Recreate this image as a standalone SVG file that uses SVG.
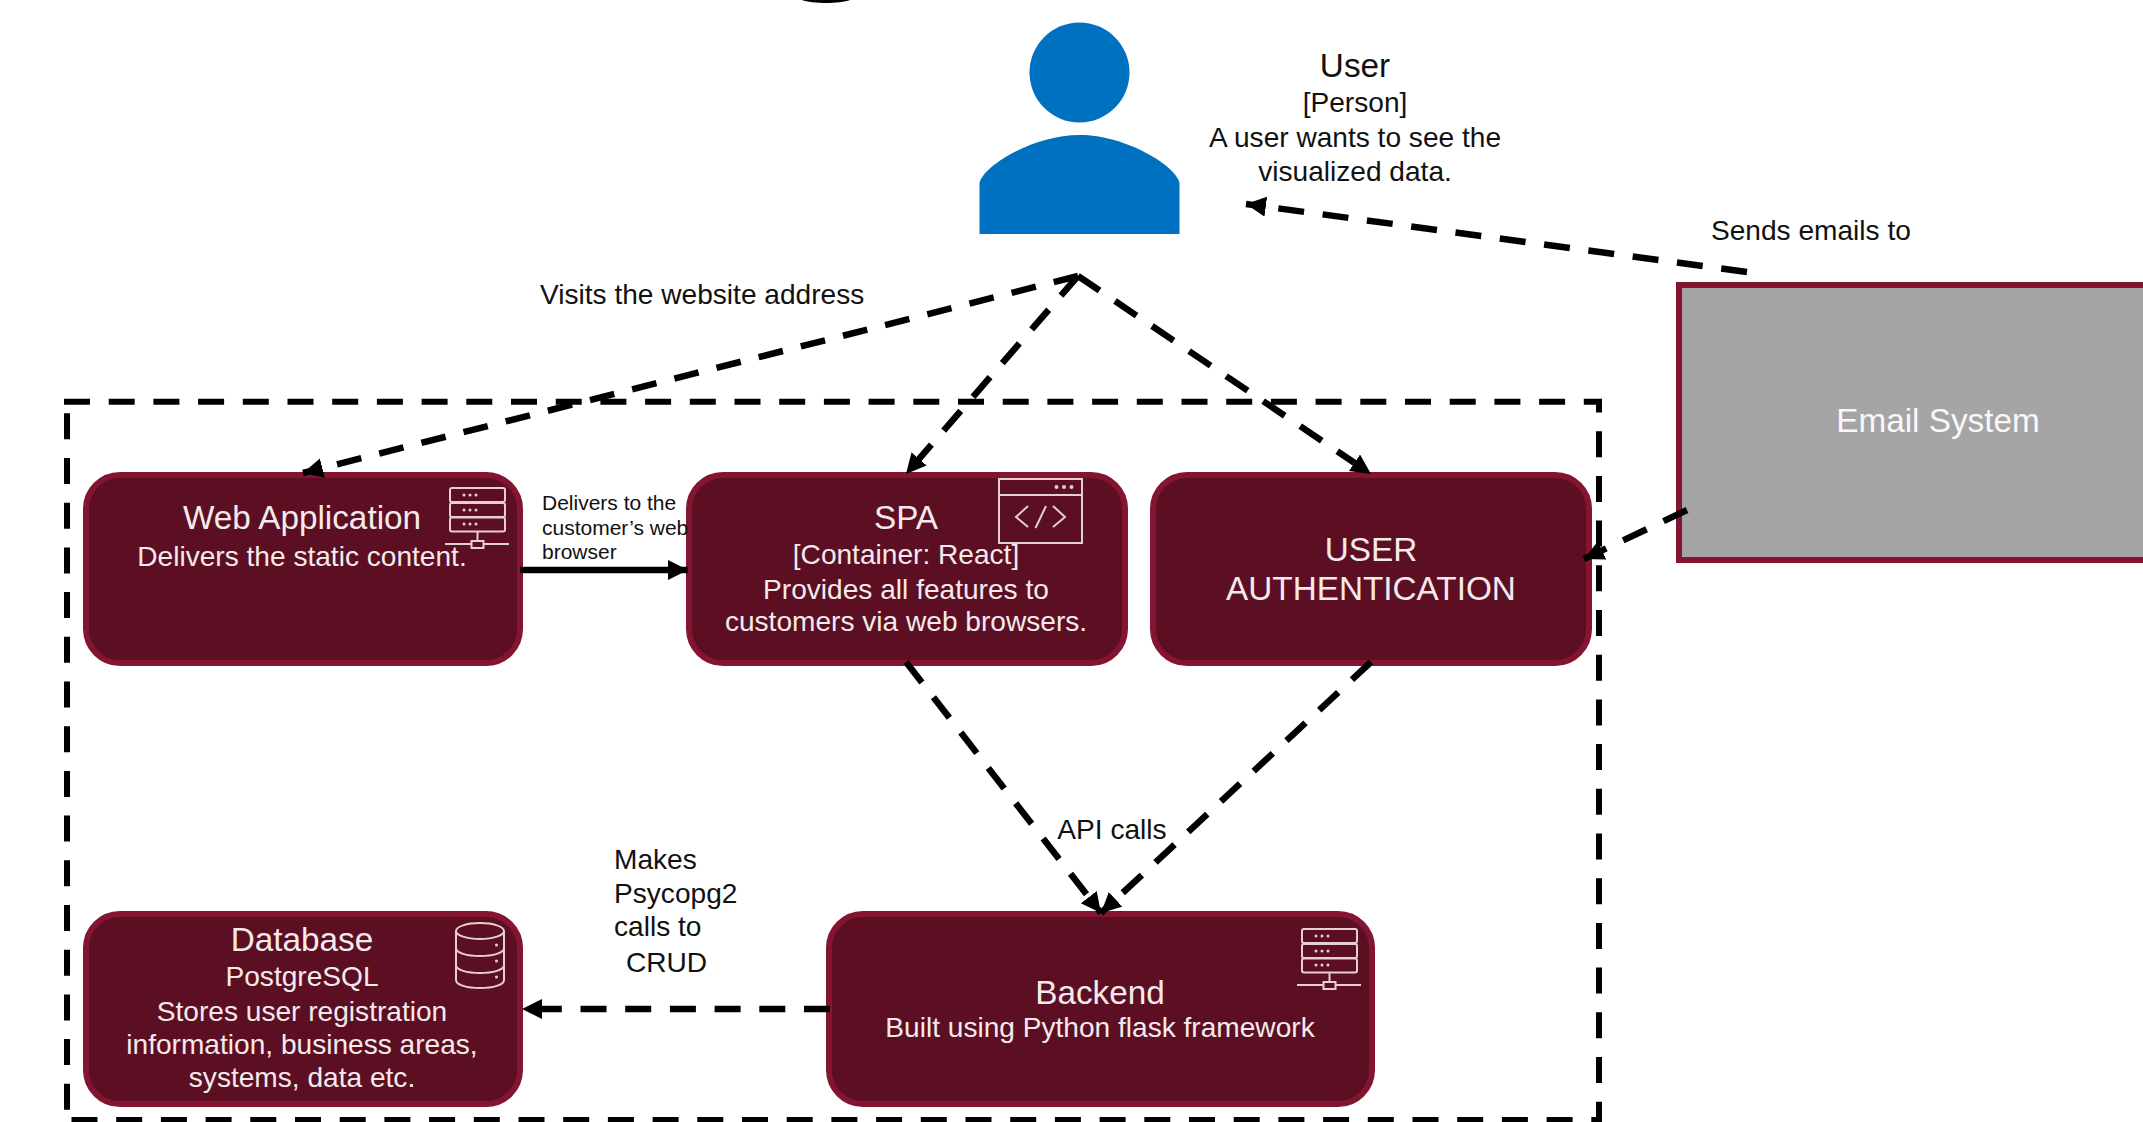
<svg xmlns="http://www.w3.org/2000/svg" width="2143" height="1122" viewBox="0 0 2143 1122">
<style>
text{font-family:"Liberation Sans",Arial,sans-serif}
.n{fill:#5c0f22;stroke:#831530;stroke-width:6}
.t{fill:#f4eaec;text-anchor:middle}
.big{font-size:33.300px}
.mid{font-size:28.100px}
.lab{font-size:28.100px;fill:#111}
.sm{font-size:21px;fill:#111}
.dash{fill:none;stroke:#000;stroke-width:6;stroke-dasharray:26 18.700}
.conn{fill:none;stroke:#000;stroke-width:6.500;stroke-dasharray:26 18.700}
.ic{fill:none;stroke:#e4d0d4;stroke-width:2}
.icd{fill:#e4d0d4}
</style>
<defs>
<marker id="ah" markerUnits="userSpaceOnUse" markerWidth="22" markerHeight="22" refX="20" refY="10" orient="auto"><path d="M0 0L20 10L0 20Z" fill="#000"/></marker>
<g id="srv">
<rect class="ic" x="450" y="488" width="55" height="14" rx="2"/>
<rect class="ic" x="450" y="503" width="55" height="14" rx="2"/>
<rect class="ic" x="450" y="517.500" width="55" height="14" rx="2"/>
<path class="ic" d="M477.500 531.500V541M445 544H471.500M483.500 544H509"/>
<rect class="ic" x="471.500" y="541" width="12" height="7"/>
<g class="icd"><circle cx="464" cy="495" r="1.500"/><circle cx="470" cy="495" r="1.500"/><circle cx="476" cy="495" r="1.500"/><circle cx="464" cy="510" r="1.500"/><circle cx="470" cy="510" r="1.500"/><circle cx="476" cy="510" r="1.500"/><circle cx="464" cy="524" r="1.500"/><circle cx="470" cy="524" r="1.500"/><circle cx="476" cy="524" r="1.500"/></g>
</g>
</defs>
<rect width="2143" height="1122" fill="#fff"/>
<path id="title-fragment" d="M802 0C812 4 840 4 850 0Z" fill="#000"/>
<g id="boundary"><path class="dash" d="M64 401.700H1599V1120H70"/><path class="dash" d="M67 413.300V1110"/></g>
<g id="user"><circle cx="1079.500" cy="72.500" r="50" fill="#0070c0"/><path d="M979.500 234V183C983 166 1033 135 1079.500 135C1126 135 1176 166 1179.500 183V234Z" fill="#0070c0"/>
<text class="big" x="1355" y="77" text-anchor="middle" fill="#111">User</text>
<g class="mid" text-anchor="middle" fill="#111"><text x="1355" y="112">[Person]</text><text x="1355" y="147">A user wants to see the</text><text x="1355" y="181">visualized data.</text></g></g>
<g id="email"><rect x="1679" y="285" width="480" height="275" fill="#a5a5a5" stroke="#831530" stroke-width="6"/><text class="big" x="1938" y="432" text-anchor="middle" fill="#f8f8f8">Email System</text></g>
<g id="webapp"><rect class="n" x="86" y="475" width="434" height="188" rx="34"/><use href="#srv"/><text class="t big" x="302" y="529">Web Application</text><text class="t mid" x="302" y="566">Delivers the static content.</text></g>
<g id="spa"><rect class="n" x="689" y="475" width="436" height="188" rx="34"/>
<rect class="ic" x="999" y="479" width="83" height="64"/><path class="ic" d="M999 495H1082M1028 506L1016 517L1028 527M1046 506L1035.500 528M1053 506L1065 517L1053 527"/><circle class="icd" cx="1056.500" cy="487" r="2"/><circle class="icd" cx="1064" cy="487" r="2"/><circle class="icd" cx="1071.500" cy="487" r="2"/>
<text class="t big" x="906" y="529">SPA</text><g class="t mid"><text x="906" y="564">[Container: React]</text><text x="906" y="599">Provides all features to</text><text x="906" y="631">customers via web browsers.</text></g></g>
<g id="auth"><rect class="n" x="1153" y="475" width="436" height="188" rx="34"/><text class="t big" x="1371" y="561">USER</text><text class="t big" x="1371" y="600">AUTHENTICATION</text></g>
<g id="database"><rect class="n" x="86" y="914" width="434" height="190" rx="34"/>
<g class="ic"><path d="M456 931V980C456 985 467 988 480 988C493 988 504 985 504 980V931"/><ellipse cx="480" cy="931" rx="24" ry="8"/><path d="M456 948C456 953 467 956 480 956C493 956 504 953 504 948M456 965C456 970 467 973 480 973C493 973 504 970 504 965"/></g>
<g class="icd"><circle cx="496.500" cy="945" r="1.500"/><circle cx="496.500" cy="961" r="1.500"/><circle cx="496.500" cy="977" r="1.500"/></g>
<text class="t big" x="302" y="951">Database</text><g class="t mid"><text x="302" y="986">PostgreSQL</text><text x="302" y="1021">Stores user registration</text><text x="302" y="1054">information, business areas,</text><text x="302" y="1087">systems, data etc.</text></g></g>
<g id="backend"><rect class="n" x="829" y="914" width="543" height="190" rx="34"/><use href="#srv" x="852" y="441"/><text class="t big" x="1100" y="1004">Backend</text><text class="t mid" x="1100" y="1037">Built using Python flask framework</text></g>
<g id="connectors">
<path class="conn" style="stroke-dasharray:25 18.500" marker-end="url(#ah)" d="M1078 276L303 473"/>
<path class="conn" marker-end="url(#ah)" d="M1078 276L906 474"/>
<path class="conn" marker-end="url(#ah)" d="M1078 276L1371 474"/>
<path fill="none" stroke="#000" stroke-width="6.500" marker-end="url(#ah)" d="M520 570H688"/>
<path class="conn" marker-end="url(#ah)" d="M1747 272L1246 204"/>
<path class="conn" marker-end="url(#ah)" d="M1687 510L1584 559"/>
<path class="conn" marker-end="url(#ah)" d="M906 662L1101 913"/>
<path class="conn" marker-end="url(#ah)" d="M1371 662L1101 913"/>
<path class="conn" marker-end="url(#ah)" d="M830 1009H522"/>
</g>
<g id="labels">
<text class="lab" x="540" y="304">Visits the website address</text>
<text class="lab" x="1711" y="240">Sends emails to</text>
<text class="lab" x="1112" y="839" text-anchor="middle">API calls</text>
<text class="lab" x="614" y="869">Makes</text><text class="lab" x="614" y="903">Psycopg2</text><text class="lab" x="614" y="936">calls to</text><text class="lab" x="626" y="972">CRUD</text>
<text class="sm" x="542" y="510">Delivers to the</text><text class="sm" x="542" y="535">customer’s web</text><text class="sm" x="542" y="559">browser</text>
</g>
</svg>
